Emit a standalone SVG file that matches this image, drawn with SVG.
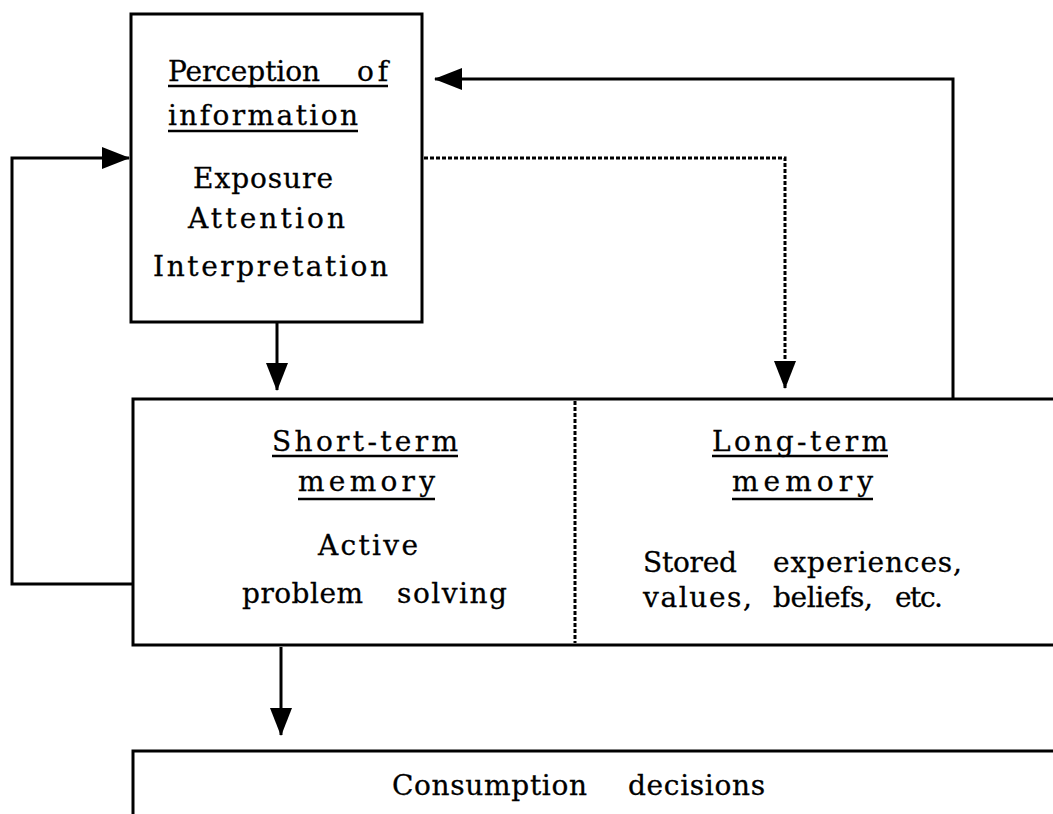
<svg xmlns="http://www.w3.org/2000/svg" width="1053" height="814" viewBox="0 0 1053 814">
  <style>
    .edge { fill: none; stroke: #000; stroke-width: 3; }
    .dash { fill: none; stroke: #000; stroke-width: 3; stroke-dasharray: 4 2; }
    .box { fill: none; stroke: #000; stroke-width: 3; }
    .t { font-family: "DejaVu Serif", "Liberation Serif", serif; font-size: 28px; fill: #000; stroke: #000; stroke-width: 0.3; }
    .ul { stroke: #000; stroke-width: 2.5; }
  </style>
  <defs>
    <marker id="head" markerWidth="28" markerHeight="22" refX="27" refY="11" orient="auto" markerUnits="userSpaceOnUse" viewBox="0 0 28 22">
      <path d="M0,0 L28,11 L0,22 Z" fill="#000"/>
    </marker>
  </defs>
  <rect width="1053" height="814" fill="#fff"/>

  <!-- Perception of information -->
  <g id="perception">
    <path class="box" d="M131,14 H422 V322 H131 Z"/>
    <text class="t" x="168" y="81" textLength="152" lengthAdjust="spacing">Perception</text>
    <text class="t" x="357" y="81" textLength="31" lengthAdjust="spacing">of</text>
    <line class="ul" x1="168" y1="86" x2="388" y2="86"/>
    <text class="t" x="168" y="125" textLength="190" lengthAdjust="spacing">information</text>
    <line class="ul" x1="168" y1="131" x2="358" y2="131"/>
    <text class="t" x="193" y="188" textLength="140" lengthAdjust="spacing">Exposure</text>
    <text class="t" x="188" y="228" textLength="157" lengthAdjust="spacing">Attention</text>
    <text class="t" x="153" y="276" textLength="235" lengthAdjust="spacing">Interpretation</text>
  </g>

  <!-- Short-term / long-term memory -->
  <g id="memory">
    <path class="box" d="M1053,399 H133 V645 H1053"/>
    <line class="dash" x1="575" y1="401" x2="575" y2="643"/>
  </g>
  <g id="short-term">
    <text class="t" x="272" y="451" textLength="186" lengthAdjust="spacing">Short-term</text>
    <line class="ul" x1="272" y1="456" x2="458" y2="456"/>
    <text class="t" x="298" y="491" textLength="137" lengthAdjust="spacing">memory</text>
    <line class="ul" x1="298" y1="499" x2="435" y2="499"/>
    <text class="t" x="318" y="555" textLength="100" lengthAdjust="spacing">Active</text>
    <text class="t" x="242" y="603" textLength="121" lengthAdjust="spacing">problem</text>
    <text class="t" x="397" y="603" textLength="110" lengthAdjust="spacing">solving</text>
  </g>
  <g id="long-term">
    <text class="t" x="712" y="451" textLength="176" lengthAdjust="spacing">Long-term</text>
    <line class="ul" x1="712" y1="456" x2="888" y2="456"/>
    <text class="t" x="732" y="491" textLength="141" lengthAdjust="spacing">memory</text>
    <line class="ul" x1="732" y1="499" x2="873" y2="499"/>
    <text class="t" x="643" y="572" textLength="94" lengthAdjust="spacing">Stored</text>
    <text class="t" x="773" y="572" textLength="189" lengthAdjust="spacing">experiences,</text>
    <text class="t" x="643" y="607" textLength="109" lengthAdjust="spacing">values,</text>
    <text class="t" x="773" y="607" textLength="100" lengthAdjust="spacing">beliefs,</text>
    <text class="t" x="895" y="607" textLength="48" lengthAdjust="spacing">etc.</text>
  </g>

  <!-- Consumption decisions -->
  <g id="decisions">
    <path class="box" d="M1053,751 H133 V814"/>
    <text class="t" x="392" y="795" textLength="195" lengthAdjust="spacing">Consumption</text>
    <text class="t" x="628" y="795" textLength="137" lengthAdjust="spacing">decisions</text>
  </g>

  <!-- Connectors -->
  <g id="connectors">
    <line class="edge" x1="277" y1="322" x2="277" y2="390" marker-end="url(#head)"/>
    <path class="dash" d="M424,158 H785 V388" marker-end="url(#head)"/>
    <path class="edge" d="M953,399 V79 H435" marker-end="url(#head)"/>
    <path class="edge" d="M133,584 H12 V158 H129" marker-end="url(#head)"/>
    <line class="edge" x1="281" y1="647" x2="281" y2="735" marker-end="url(#head)"/>
  </g>
</svg>
